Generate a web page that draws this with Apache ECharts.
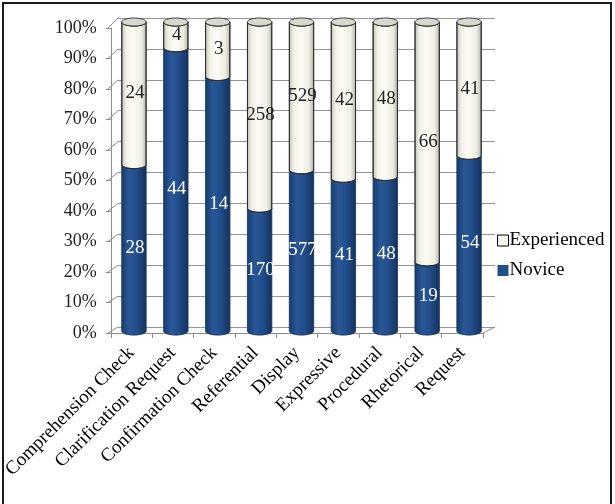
<!DOCTYPE html>
<html><head><meta charset="utf-8">
<script src="https://cdn.jsdelivr.net/npm/echarts@6/dist/echarts.min.js"></script>
<style>html,body{margin:0;padding:0;background:#fff}#main{width:615px;height:504px}</style>
</head><body><div id="main"></div>
<script>
var categories = ['Comprehension Check','Clarification Request','Confirmation Check','Referential','Display','Expressive','Procedural','Rhetorical','Request'];
var novice = [28, 44, 14, 170, 577, 41, 48, 19, 54];
var experienced = [24, 4, 3, 258, 529, 42, 48, 66, 41];
var yTicks = [0,10,20,30,40,50,60,70,80,90,100];

var SERIF = '"Liberation Serif", "Times New Roman", serif';
var BLUE = '#1f4e8d';
var CREAM = '#f6f5ec';

var noviceData = categories.map(function (c, i) {
  var tot = novice[i] + experienced[i];
  return [i, 0, novice[i] / tot * 100, novice[i]];
});
var expData = categories.map(function (c, i) {
  var tot = novice[i] + experienced[i];
  return [i, novice[i] / tot * 100, 100, experienced[i]];
});

var blueGrad = {type:'linear', x:0, y:0, x2:1, y2:0, colorStops:[
  {offset:0, color:'#173c6e'},{offset:0.3, color:'#2a5796'},{offset:0.6, color:'#224e8c'},{offset:1, color:'#14325e'}]};
var creamGrad = {type:'linear', x:0, y:0, x2:1, y2:0, colorStops:[
  {offset:0, color:'#c4c2b6'},{offset:0.2, color:'#f3f2e8'},{offset:0.45, color:'#fcfbf5'},{offset:0.8, color:'#efeee4'},{offset:1, color:'#b3b1a5'}]};

function makeRender(kind) {
  return function (params, api) {
    var i = api.value(0), s = api.value(1), e = api.value(2), cnt = api.value(3);
    var b = api.coord([i, s]);
    var t = api.coord([i, e]);
    var cx = b[0];
    var rx = api.size([1, 0])[0] * 0.29;
    var ry = 4;
    var N = 24;
    var pts = [];
    var k, a;
    for (k = 0; k <= N; k++) { a = Math.PI * (1 - k / N); pts.push([cx + rx * Math.cos(a), t[1] + ry * Math.sin(a)]); }
    for (k = 0; k <= N; k++) { a = Math.PI * (k / N); pts.push([cx + rx * Math.cos(a), b[1] + ry * Math.sin(a)]); }
    var children = [{
      type: 'polygon', shape: {points: pts},
      style: kind === 0 ? {fill: blueGrad, stroke: '#163660', lineWidth: 0.6}
                        : {fill: creamGrad, stroke: '#2a2a2a', lineWidth: 0.9}
    }];
    if (kind === 1) {
      var cap = [];
      for (k = 0; k < 48; k++) { a = 2 * Math.PI * k / 48; cap.push([cx + rx * Math.cos(a), t[1] + ry * Math.sin(a)]); }
      children.push({type: 'polygon', shape: {points: cap}, style: {fill: '#d9d8cd', stroke: '#2a2a2a', lineWidth: 0.9}});
    }
    children.push({
      type: 'text',
      style: {text: String(cnt), x: cx + 1, y: (b[1] + t[1]) / 2, align: 'center', verticalAlign: 'middle',
        textAlign: 'center', textVerticalAlign: 'middle',
        fill: kind === 0 ? '#ffffff' : '#222222', font: '19px ' + SERIF}
    });
    return {type: 'group', children: children};
  };
}

var GRIDS = [
  {left: 118, right: 120, top: 18, bottom: 177},
  {left: 108, right: 132, top: 28, bottom: 171},
  {left: 113, right: 125, top: 22, bottom: 173}
];

var option = {
  animation: false,
  grid: GRIDS,
  xAxis: [
    {gridIndex: 0, type: 'category', data: categories, axisLine: {show: false}, axisTick: {show: false}, axisLabel: {show: false}, splitLine: {show: false}},
    {gridIndex: 1, type: 'category', data: categories,
      axisLine: {lineStyle: {color: '#8c8c8c', width: 1}},
      axisTick: {show: true, length: 5, lineStyle: {color: '#8c8c8c'}},
      axisLabel: {rotate: 45, margin: 17, color: '#000', fontFamily: SERIF, fontSize: 19, interval: 0}},
    {gridIndex: 2, type: 'category', data: categories, axisLine: {show: false}, axisTick: {show: false}, axisLabel: {show: false}, splitLine: {show: false}}
  ],
  yAxis: [
    {gridIndex: 0, type: 'value', min: 0, max: 100, interval: 10,
      axisLine: {show: false}, axisTick: {show: false}, axisLabel: {show: false},
      splitLine: {show: true, lineStyle: {color: '#969696', width: 1, type: 'solid'}}},
    {gridIndex: 1, type: 'value', min: 0, max: 100, interval: 10,
      axisLine: {show: true, lineStyle: {color: '#8c8c8c'}},
      axisTick: {show: true, length: 5, lineStyle: {color: '#8c8c8c'}},
      splitLine: {show: false},
      axisLabel: {formatter: '{value}%', margin: 14, color: '#222', fontFamily: SERIF, fontSize: 18}},
    {gridIndex: 2, type: 'value', min: 0, max: 100, axisLine: {show: false}, axisTick: {show: false}, axisLabel: {show: false}, splitLine: {show: false}}
  ],
  legend: {
    orient: 'vertical', left: 497, top: 231, padding: 0, itemWidth: 11, itemHeight: 11, itemGap: 11,
    textStyle: {fontFamily: SERIF, fontSize: 19, color: '#000', padding: [0, 0, 0, -4]},
    data: [
      {name: 'Experienced', icon: 'rect', itemStyle: {color: CREAM, borderColor: '#000', borderWidth: 1}},
      {name: 'Novice', icon: 'rect', itemStyle: {color: BLUE, borderWidth: 0}}
    ]
  },
  series: [
    {name: 'Novice', type: 'custom', xAxisIndex: 2, yAxisIndex: 2, renderItem: makeRender(0),
      itemStyle: {color: BLUE}, encode: {x: 0, y: [1, 2]}, data: noviceData, z: 5, clip: false},
    {name: 'Experienced', type: 'custom', xAxisIndex: 2, yAxisIndex: 2, renderItem: makeRender(1),
      itemStyle: {color: CREAM}, encode: {x: 0, y: [1, 2]}, data: expData, z: 6, clip: false}
  ]
};

var chart = echarts.init(document.getElementById('main'));
window.chart = chart;
chart.setOption(option);

// 3D connectors between the front axis and the back wall, positioned from the axes' scales
var W = 615;
var backX = GRIDS[0].left, backR = W - GRIDS[0].right;
var frontX = GRIDS[1].left, frontR = W - GRIDS[1].right;
var gfx = [];
yTicks.forEach(function (v) {
  var yf = chart.convertToPixel({yAxisIndex: 1}, v);
  var yb = chart.convertToPixel({yAxisIndex: 0}, v);
  gfx.push({type: 'line', z: 1, shape: {x1: frontX, y1: yf, x2: backX, y2: yb}, style: {stroke: '#8c8c8c', lineWidth: 1}});
});
var yf0 = chart.convertToPixel({yAxisIndex: 1}, 0);
var yb0 = chart.convertToPixel({yAxisIndex: 0}, 0);
gfx.push({type: 'line', z: 1, shape: {x1: frontR, y1: yf0, x2: backR, y2: yb0}, style: {stroke: '#8c8c8c', lineWidth: 1}});
gfx.push({type: 'rect', z: 10, shape: {x: 3, y: 3, width: 608, height: 520}, style: {fill: null, stroke: '#1a1a1a', lineWidth: 2}});
chart.setOption({graphic: gfx});
</script>
</body></html>
